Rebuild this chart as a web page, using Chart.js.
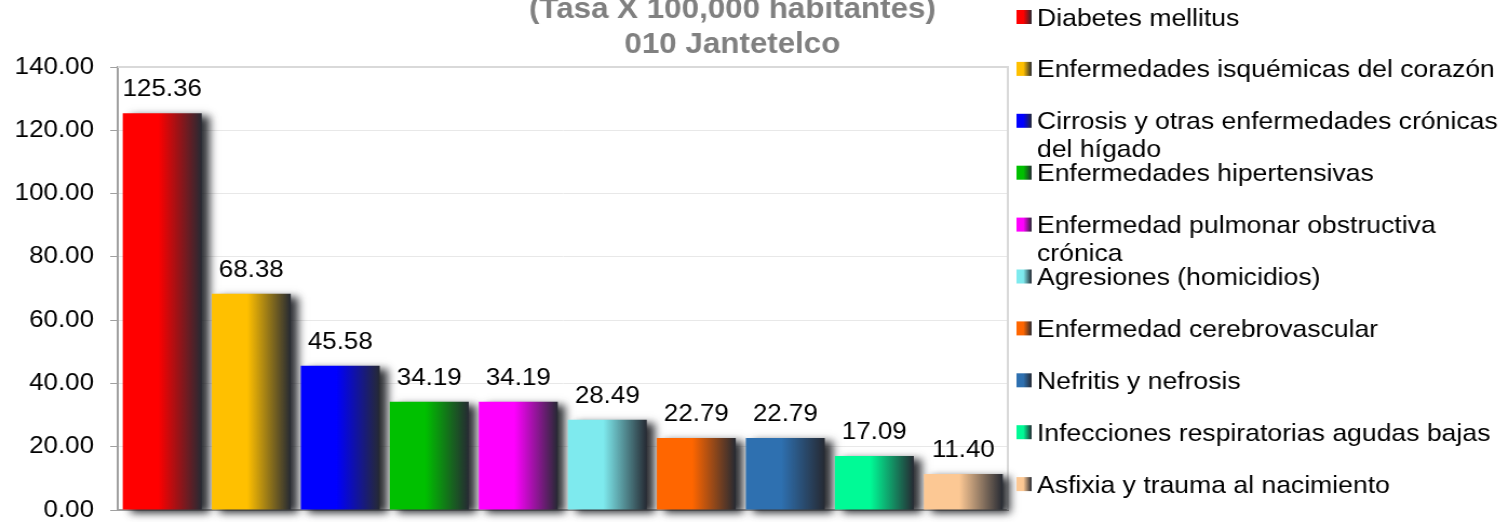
<!DOCTYPE html>
<html>
<head>
<meta charset="utf-8">
<script src="https://cdn.jsdelivr.net/npm/chart.js@4.4.1/dist/chart.umd.min.js"></script>
<style>
  html, body { margin: 0; padding: 0; background: #fff; overflow: hidden; }
  /* the original picture is a little wider than tall, so stretch the whole canvas */
  #wrap { width: 1397px; height: 522px; transform: scaleX(1.0802); transform-origin: 0 0; }
</style>
</head>
<body>
<div id="wrap"><canvas id="chart" width="1397" height="522"></canvas></div>
<script>
const titleLines = ["(Tasa X 100,000 habitantes)", "010 Jantetelco"];

const causes = [
  "Diabetes mellitus",
  "Enfermedades isquémicas del corazón",
  "Cirrosis y otras enfermedades crónicas del hígado",
  "Enfermedades hipertensivas",
  "Enfermedad pulmonar obstructiva crónica",
  "Agresiones (homicidios)",
  "Enfermedad cerebrovascular",
  "Nefritis y nefrosis",
  "Infecciones respiratorias agudas bajas",
  "Asfixia y trauma al nacimiento"
];
const rates = [125.36, 68.38, 45.58, 34.19, 34.19, 28.49, 22.79, 22.79, 17.09, 11.40];
const barColors = [
  "#ff0000", "#ffc000", "#0000ff", "#00c000", "#ff00ff",
  "#7eeaee", "#ff6600", "#2e70b0", "#00fa96", "#fcc894"
];
const yMin = 0;
const yMax = 140;
const yStep = 20;

const FONT = "'Liberation Sans', Arial, sans-serif";
const DARK = "#262a33";
const BAR_PCT = 0.887;

function shade(ctx, x0, w, color) {
  const g = ctx.createLinearGradient(x0, 0, x0 + w, 0);
  g.addColorStop(0, color);
  g.addColorStop(0.45, color);
  g.addColorStop(1, DARK);
  return g;
}

function wrapText(ctx, text, maxW) {
  const words = text.split(" ");
  const lines = [];
  let line = "";
  words.forEach((w) => {
    const test = line ? line + " " + w : w;
    if (line && ctx.measureText(test).width > maxW) {
      lines.push(line);
      line = w;
    } else {
      line = test;
    }
  });
  if (line) lines.push(line);
  return lines;
}

// shadow behind the bars
const barShadow = {
  id: "barShadow",
  beforeDatasetDraw(chart) {
    const ctx = chart.ctx;
    ctx.save();
    ctx.shadowColor = "rgba(25,27,32,0.9)";
    ctx.shadowBlur = 8;
    ctx.shadowOffsetX = 7;
    ctx.shadowOffsetY = 3;
  },
  afterDatasetDraw(chart) {
    chart.ctx.restore();
  }
};

// light frame on top and right of the plot area
const plotFrame = {
  id: "plotFrame",
  beforeDatasetsDraw(chart) {
    const { ctx, chartArea: a } = chart;
    ctx.save();
    ctx.strokeStyle = "#d9d9d9";
    ctx.lineWidth = 2;
    ctx.beginPath();
    ctx.moveTo(a.left, a.top);
    ctx.lineTo(a.right, a.top);
    ctx.lineTo(a.right, a.bottom);
    ctx.stroke();
    ctx.restore();
  }
};

const valueLabels = {
  id: "valueLabels",
  afterDatasetsDraw(chart) {
    const ctx = chart.ctx;
    ctx.save();
    ctx.font = "24px " + FONT;
    ctx.fillStyle = "#000";
    ctx.textAlign = "center";
    ctx.textBaseline = "alphabetic";
    chart.getDatasetMeta(0).data.forEach((bar, i) => {
      ctx.fillText(rates[i].toFixed(2), bar.x, bar.y - 17);
    });
    ctx.restore();
  }
};

const sideLegend = {
  id: "sideLegend",
  afterDraw(chart) {
    const ctx = chart.ctx;
    ctx.save();
    ctx.font = "24.6px " + FONT;
    ctx.fillStyle = "#000";
    ctx.textBaseline = "alphabetic";
    const textX = 960;
    const maxW = chart.width - textX - 1;
    causes.forEach((name, i) => {
      const cy = 17 + 51.9 * i;
      ctx.fillStyle = shade(ctx, 941, 14, barColors[i]);
      ctx.fillRect(941, cy - 7, 14, 14);
      ctx.fillStyle = "#000";
      wrapText(ctx, name, maxW).forEach((ln, k) => {
        ctx.fillText(ln, textX, cy + 8.5 + k * 28);
      });
    });
    ctx.restore();
  }
};

const chartTitle = {
  id: "chartTitle",
  afterDraw(chart) {
    const ctx = chart.ctx;
    ctx.save();
    ctx.font = "bold 29px " + FONT;
    ctx.fillStyle = "#808080";
    ctx.textAlign = "center";
    titleLines.forEach((t, k) => {
      ctx.fillText(t, 678, 18 + k * 35);
    });
    ctx.restore();
  }
};

new Chart(document.getElementById("chart"), {
  type: "bar",
  data: {
    labels: causes,
    datasets: [{
      data: rates,
      clip: false,
      categoryPercentage: 1,
      barPercentage: BAR_PCT,
      borderWidth: 0,
      backgroundColor: (c) => {
        const chart = c.chart;
        const x = chart.scales.x;
        if (!chart.chartArea || !x || c.dataIndex === undefined) return barColors[c.dataIndex] || barColors[0];
        const w = (x.width / causes.length) * BAR_PCT;
        const cx = x.getPixelForValue(c.dataIndex);
        return shade(chart.ctx, cx - w / 2, w, barColors[c.dataIndex]);
      }
    }]
  },
  options: {
    responsive: false,
    animation: false,
    events: [],
    layout: { padding: { top: 67, right: 464, bottom: 12, left: 0 } },
    plugins: { legend: { display: false }, tooltip: { enabled: false }, title: { display: false } },
    scales: {
      x: {
        ticks: { display: false },
        grid: { display: false, drawTicks: false },
        border: { display: true, color: "#a0a0a0", width: 2 },
        afterFit(scale) { scale.height = 0; }
      },
      y: {
        min: yMin,
        max: yMax,
        ticks: {
          stepSize: yStep,
          color: "#000",
          padding: 15,
          font: { family: FONT, size: 24 },
          callback: (v) => Number(v).toFixed(2)
        },
        grid: { color: "#e8e8e8", lineWidth: 1, tickColor: "#a0a0a0", tickLength: 7 },
        border: { display: true, color: "#a0a0a0", width: 2 },
        afterFit(scale) {
          scale.width = 109;
          scale.paddingTop = 0;
          scale.paddingBottom = 0;
        }
      }
    }
  },
  plugins: [plotFrame, barShadow, valueLabels, sideLegend, chartTitle]
});
</script>
</body>
</html>
